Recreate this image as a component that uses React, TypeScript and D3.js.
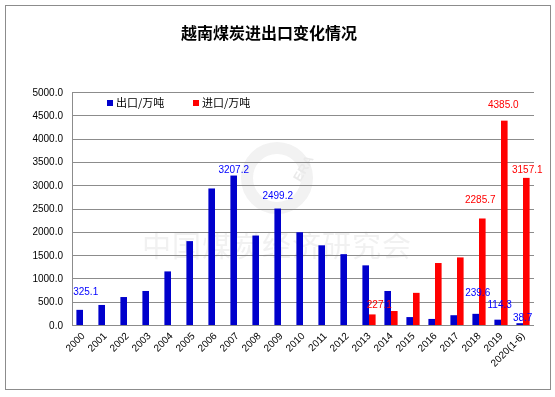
import React from "react";
import * as d3 from "d3";

const years = [
  "2000", "2001", "2002", "2003", "2004", "2005", "2006", "2007", "2008", "2009", "2010",
  "2011", "2012", "2013", "2014", "2015", "2016", "2017", "2018", "2019", "2020(1-6)",
];
const exportValues = [
  325.1, 430, 600, 730, 1150, 1800, 2930, 3207.2, 1920, 2499.2, 1990,
  1710, 1520, 1280, 730, 170, 130, 210, 239.6, 114.3, 38.7,
];
const importValues = [
  0, 0, 0, 0, 0, 0, 0, 0, 0, 0, 0,
  0, 0, 227.1, 300, 690, 1330, 1450, 2285.7, 4385.0, 3157.1,
];
const yTicks = [0, 500, 1000, 1500, 2000, 2500, 3000, 3500, 4000, 4500, 5000];

const seriesNames = ["出口/万吨", "进口/万吨"];
const seriesColors = ["#0000CC", "#FF0000"];
const labelColors = ["#0000FF", "#FF0000"];

// which values get a data label, and how far it is nudged from the bar top
const labelPlacement = [
  { series: 0, year: "2000", dx: 6, dy: -15 },
  { series: 0, year: "2007", dx: 0, dy: -3 },
  { series: 0, year: "2009", dx: 0, dy: -10 },
  { series: 0, year: "2018", dx: 2, dy: -18 },
  { series: 0, year: "2019", dx: 2, dy: -12 },
  { series: 0, year: "2020(1-6)", dx: 3, dy: -2 },
  { series: 1, year: "2013", dx: 7, dy: -6 },
  { series: 1, year: "2018", dx: -2, dy: -15 },
  { series: 1, year: "2019", dx: -1, dy: -13 },
  { series: 1, year: "2020(1-6)", dx: 1, dy: -5 },
];

function App() {
  const width = 555;
  const height = 397;
  const left = 72;
  const right = 534;
  const top = 92;
  const bottom = 325;
  const font = "'Liberation Sans', Arial, sans-serif";
  const cjk = "'Noto Sans CJK SC', sans-serif";

  const x = d3.scaleBand().domain(years).range([left, right]).paddingInner(0.4).paddingOuter(0.2);
  const xSub = d3.scaleBand().domain(["0", "1"]).range([0, x.bandwidth()]);
  const y = d3.scaleLinear().domain([0, 5000]).range([bottom, top]);
  const fmt = d3.format(".1f");
  const series = [exportValues, importValues];

  return (
    <svg width={width} height={height} style={{ position: "absolute", left: 0, top: 0 }}>
      <rect x={0} y={0} width={width} height={height} fill="#fff" />
      <rect x={5.5} y={5.5} width={545} height={384} fill="#fff" stroke="#8c8c8c" />

      {/* watermark */}
      <g opacity={0.9}>
        <circle cx={277} cy={178} r={30} fill="none" stroke="#f1f1f1" strokeWidth={12} />
        <text x={296} y={185} fontFamily={font} fontSize={13} fontWeight="bold" fill="#e8e8e8"
          transform="rotate(-60 296 180)">ERA</text>
        <text x={142} y={257} fontFamily={cjk} fontSize={29} fill="#f0f0f0" letterSpacing={1}>
          中国煤炭经济研究会
        </text>
      </g>

      <text x={269} y={39} textAnchor="middle" fontFamily={cjk} fontSize={16} fontWeight="bold" fill="#000">
        越南煤炭进出口变化情况
      </text>

      {yTicks.map((t) => (
        <g key={t}>
          <line x1={left} x2={right} y1={Math.round(y(t)) + 0.5} y2={Math.round(y(t)) + 0.5} stroke="#8c8c8c" />
          <text x={63} y={y(t)} dy="0.35em" textAnchor="end" fontFamily={font} fontSize={10} fill="#000">
            {fmt(t)}
          </text>
        </g>
      ))}
      <line x1={left + 0.5} x2={left + 0.5} y1={top} y2={bottom + 1} stroke="#8c8c8c" />

      {series.map((values, s) => (
        <g key={s}>
          {values.map((v, i) =>
            v > 0 ? (
              <rect
                key={i}
                x={(x(years[i]) as number) + (xSub(String(s)) as number)}
                y={y(v)}
                width={xSub.bandwidth()}
                height={y(0) - y(v)}
                fill={seriesColors[s]}
              />
            ) : null
          )}
        </g>
      ))}
      <line x1={left} x2={right} y1={bottom + 0.5} y2={bottom + 0.5} stroke="#8c8c8c" />

      {labelPlacement.map((l, k) => {
        const i = years.indexOf(l.year);
        const v = series[l.series][i];
        const cx = (x(l.year) as number) + (xSub(String(l.series)) as number) + xSub.bandwidth() / 2;
        return (
          <text key={k} x={cx + l.dx} y={y(v) + l.dy} textAnchor="middle" fontFamily={font} fontSize={10}
            fill={labelColors[l.series]}>
            {fmt(v)}
          </text>
        );
      })}

      {years.map((yr) => {
        const cx = (x(yr) as number) + x.bandwidth() / 2;
        return (
          <text key={yr} x={cx} y={334} textAnchor="end" fontFamily={font} fontSize={10} fill="#000"
            transform={`rotate(-45 ${cx} 334)`} dy="0.35em">
            {yr}
          </text>
        );
      })}

      {seriesNames.map((n, s) => (
        <g key={n} transform={`translate(${107 + s * 86}, 100)`}>
          <rect x={0} y={0} width={6} height={6} fill={seriesColors[s]} />
          <text x={9} y={3} dy="0.38em" fontFamily={cjk} fontSize={11} fill="#000">{n}</text>
        </g>
      ))}
    </svg>
  );
}

export default App;
